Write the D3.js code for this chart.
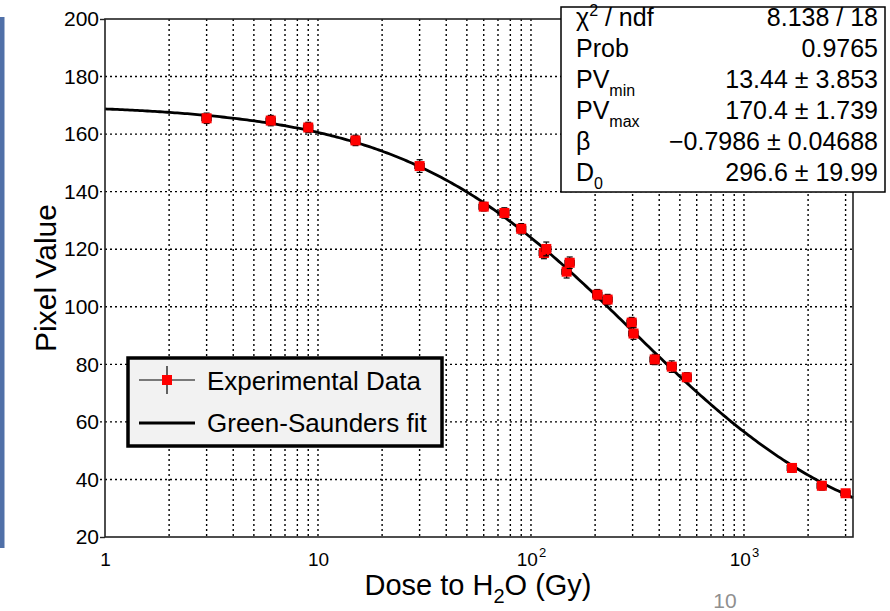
<!DOCTYPE html>
<html>
<head>
<meta charset="utf-8">
<script src="https://cdn.jsdelivr.net/npm/d3@7"></script>
<style>
  body { margin: 0; background: #fff; }
  svg text { font-family: "Liberation Sans", Arial, Helvetica, sans-serif; fill: #000; }
</style>
</head>
<body>
<svg id="chart" width="890" height="611"></svg>
<script>
// measured points (dose in Gy, pixel value)
const doses = [3, 6, 9, 15, 30, 60, 75, 90, 115, 118, 147, 152, 205, 229, 297, 303, 381, 458, 539, 1680, 2320, 3000];
const pixelValues = [165.5, 164.7, 162.3, 157.8, 148.9, 134.8, 132.6, 127.1, 118.7, 120.1, 112.2, 115.3, 104.2, 102.5, 94.5, 90.7, 81.7, 79.2, 75.5, 44.0, 37.8, 35.2];
const pixelErrors = [1.8, 1.8, 1.8, 1.8, 2.2, 1.5, 1.8, 1.8, 2.0, 2.4, 2.2, 2.0, 1.8, 1.8, 1.8, 2.0, 1.8, 2.0, 1.6, 1.5, 1.5, 1.2];
const doseErrPct = 5;

// Green-Saunders fit parameters (from the stats box)
const fitParams = { pvMin: 13.44, pvMax: 170.4, beta: -0.7986, d0: 296.6 };

const yTicks = [20, 40, 60, 80, 100, 120, 140, 160, 180, 200];
const xLabelTicks = [1, 10, 100, 1000];
const xLabelText = [["1", ""], ["10", ""], ["10", "2"], ["10", "3"]];

const statsLabels = [
  [["χ", ""], ["2", "sup"], [" / ndf", ""]],
  [["Prob", ""]],
  [["PV", ""], ["min", "sub"]],
  [["PV", ""], ["max", "sub"]],
  [["β", ""]],
  [["D", ""], ["0", "sub"]]
];
const statsValues = ["8.138 / 18", "0.9765", "13.44 \u00b1 3.853", "170.4 \u00b1 1.739", "\u22120.7986 \u00b1 0.04688", "296.6 \u00b1 19.99"];

const legendItems = ["Experimental Data", "Green-Saunders fit"];

const svg = d3.select("#chart");
const m = { left: 105, right: 853, top: 19, bottom: 537 };

const x = d3.scaleLog().domain([1, 3250]).range([m.left, m.right]);
const y = d3.scaleLinear().domain([20, 200]).range([m.bottom, m.top]);

// slide decoration
svg.append("rect").attr("x", 0).attr("y", 17).attr("width", 4.5).attr("height", 531).attr("fill", "#5070a8");
svg.append("text").attr("x", 725).attr("y", 608).attr("text-anchor", "middle")
  .style("font-size", "21px").style("fill", "#8f8f8f").text("10");

// grid
const grid = svg.append("g").attr("stroke", "#000").attr("stroke-width", 1.4).attr("stroke-dasharray", "2,3");
grid.selectAll("line.v").data(x.ticks().filter(d => d > 1)).enter().append("line")
  .attr("x1", d => x(d)).attr("x2", d => x(d)).attr("y1", m.top).attr("y2", m.bottom);
grid.selectAll("line.h").data(yTicks.filter(d => d > 20 && d < 200)).enter().append("line")
  .attr("x1", m.left - 5).attr("x2", m.right).attr("y1", d => y(d)).attr("y2", d => y(d));

// fit curve
const gs = d => fitParams.pvMax + (fitParams.pvMin - fitParams.pvMax) / (1 + Math.pow(d / fitParams.d0, fitParams.beta));
const [lo, hi] = x.domain();
const curveDoses = d3.range(0, 301).map(i => lo * Math.pow(hi / lo, i / 300));
svg.append("path").datum(curveDoses)
  .attr("fill", "none").attr("stroke", "#000").attr("stroke-width", 2.8)
  .attr("d", d3.line().x(d => x(d)).y(d => y(gs(d))));

// data points with error bars
const pts = doses.map((d, i) => ({ d, v: pixelValues[i], e: pixelErrors[i] }));
const pg = svg.append("g").selectAll("g").data(pts).enter().append("g");
const cap = 3;
pg.append("line").attr("stroke", "#000").attr("stroke-width", 1.2)
  .attr("x1", p => x(p.d)).attr("x2", p => x(p.d)).attr("y1", p => y(p.v - p.e)).attr("y2", p => y(p.v + p.e));
pg.append("line").attr("stroke", "#000").attr("stroke-width", 1.2)
  .attr("x1", p => x(p.d * (1 - doseErrPct / 100))).attr("x2", p => x(p.d * (1 + doseErrPct / 100)))
  .attr("y1", p => y(p.v)).attr("y2", p => y(p.v));
[-1, 1].forEach(s => {
  pg.append("line").attr("stroke", "#000").attr("stroke-width", 1.2)
    .attr("x1", p => x(p.d) - cap).attr("x2", p => x(p.d) + cap)
    .attr("y1", p => y(p.v + s * p.e)).attr("y2", p => y(p.v + s * p.e));
  pg.append("line").attr("stroke", "#000").attr("stroke-width", 1.2)
    .attr("x1", p => x(p.d * (1 + s * doseErrPct / 100))).attr("x2", p => x(p.d * (1 + s * doseErrPct / 100)))
    .attr("y1", p => y(p.v) - cap).attr("y2", p => y(p.v) + cap);
});
pg.append("rect").attr("fill", "#ff0000")
  .attr("x", p => x(p.d) - 5).attr("y", p => y(p.v) - 5).attr("width", 10).attr("height", 10);

// frame
svg.append("rect").attr("x", m.left).attr("y", m.top).attr("width", m.right - m.left).attr("height", m.bottom - m.top)
  .attr("fill", "none").attr("stroke", "#222").attr("stroke-width", 1.6);

// y axis labels (inner ticks are the dotted grid, the end ticks are solid)
svg.append("g").attr("transform", `translate(${m.left},0)`)
  .call(d3.axisLeft(y).tickValues(yTicks).tickSize(5).tickPadding(1))
  .call(g => g.select(".domain").remove())
  .call(g => g.selectAll(".tick line").attr("stroke", "#222").attr("stroke-width", 1.4)
    .attr("opacity", d => (d === 20 || d === 200) ? 1 : 0))
  .call(g => g.selectAll("text").style("font-size", "21px").style("font-family", "Liberation Sans, Arial, sans-serif").attr("fill", "#000"));

// x axis labels
const xa = svg.append("g").attr("transform", `translate(0,${m.bottom})`)
  .call(d3.axisBottom(x).tickValues(xLabelTicks).tickSize(0).tickFormat(() => ""));
xa.select(".domain").remove();
xa.selectAll(".tick text").each(function (d, i) {
  const t = d3.select(this).attr("y", 29).attr("dy", 0)
    .style("font-size", "19px").style("font-family", "Liberation Sans, Arial, sans-serif").attr("fill", "#000");
  t.append("tspan").text(xLabelText[i][0]);
  if (xLabelText[i][1]) t.append("tspan").attr("dy", -9).attr("dx", 1).style("font-size", "13px").text(xLabelText[i][1]);
});

// axis titles
const xt = svg.append("text").attr("x", 478).attr("y", 595).attr("text-anchor", "middle").style("font-size", "29px");
xt.append("tspan").text("Dose to H");
xt.append("tspan").attr("dy", 8).style("font-size", "20px").text("2");
xt.append("tspan").attr("dy", -8).text("O (Gy)");

svg.append("text").attr("transform", "translate(56,278) rotate(-90)").attr("text-anchor", "middle")
  .style("font-size", "30px").text("Pixel Value");

// legend
const lg = svg.append("g");
lg.append("rect").attr("x", 128).attr("y", 358).attr("width", 314).attr("height", 88)
  .attr("fill", "#f2f2f2").attr("stroke", "#000").attr("stroke-width", 3.5);
lg.append("line").attr("x1", 139).attr("x2", 195).attr("y1", 380).attr("y2", 380).attr("stroke", "#000").attr("stroke-width", 1.2);
lg.append("line").attr("x1", 167).attr("x2", 167).attr("y1", 366).attr("y2", 394).attr("stroke", "#000").attr("stroke-width", 1.2);
lg.append("rect").attr("x", 162).attr("y", 375).attr("width", 10).attr("height", 10).attr("fill", "#ff0000");
lg.append("line").attr("x1", 139).attr("x2", 195).attr("y1", 423).attr("y2", 423).attr("stroke", "#000").attr("stroke-width", 2.8);
lg.selectAll("text").data(legendItems).enter().append("text")
  .attr("x", 207).attr("y", (d, i) => 390 + i * 42).style("font-size", "26px").text(d => d);

// stats box
const sb = svg.append("g");
sb.append("rect").attr("x", 561).attr("y", 7).attr("width", 324).attr("height", 185)
  .attr("fill", "#fff").attr("stroke", "#000").attr("stroke-width", 1.5);
statsLabels.forEach((parts, i) => {
  const t = sb.append("text").attr("x", 576).attr("y", 26 + i * 31).style("font-size", "25px");
  let shift = 0;
  parts.forEach(([s, kind]) => {
    const dy = kind === "sup" ? -10 : kind === "sub" ? 8 : 0;
    const ts = t.append("tspan").attr("dy", dy - shift).text(s);
    if (kind) ts.style("font-size", "16px");
    shift = dy;
  });
});
sb.selectAll("text.val").data(statsValues).enter().append("text")
  .attr("x", 878).attr("y", (d, i) => 26 + i * 31).attr("text-anchor", "end").style("font-size", "25px").text(d => d);
</script>
</body>
</html>
